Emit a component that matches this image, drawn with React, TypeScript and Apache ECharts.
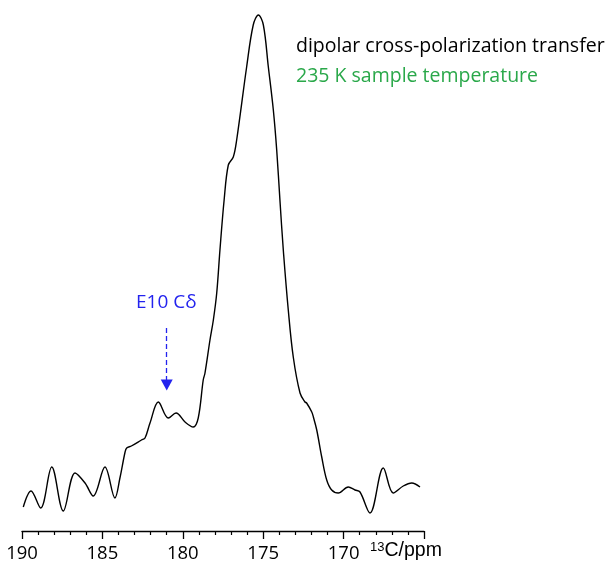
import React, { useEffect, useRef } from 'react';
import * as echarts from 'echarts';

// 13C chemical shift (ppm) and intensity (arbitrary units)
const shiftPpm = [
  189.92, 189.44, 188.84, 188.15, 187.43, 186.7, 186.08, 185.57, 184.84, 184.22,
  183.91, 183.59, 183.49, 183.2, 182.57, 182.35, 182.04, 181.52, 180.9, 180.42,
  179.86, 179.35, 179.04, 178.73, 178.62, 178.31, 178.1, 177.89, 177.69, 177.43,
  177.17, 176.86, 176.65, 176.03, 175.62, 175.3, 174.99, 174.68, 174.37, 174.16,
  173.96, 173.75, 173.44, 173.13, 172.71, 172.4, 172.3, 171.98, 171.88, 171.67,
  171.36, 171.05, 170.74, 170.33, 169.71, 169.29, 168.98, 168.36, 167.53, 166.91,
  166.29, 165.76, 165.25,
];
const intensity = [
  24, 40, 23, 64, 20, 58, 48, 35, 64, 33,
  53, 79, 83, 85, 91, 93, 108, 129, 113, 118,
  109, 104, 113, 151, 158, 191, 211, 238, 281, 331,
  366, 374, 391, 464, 506, 516, 506, 464, 421, 381,
  331, 281, 221, 174, 138, 129, 128, 119, 114, 101,
  74, 51, 41, 38, 44, 41, 39, 18, 63, 38,
  45, 48, 44,
];

const axisMin = 165;
const axisMax = 190;
const axisStep = 5;

const titleLine1 = 'dipolar cross-polarization transfer';
const titleLine2 = '235 K sample temperature';
const peakLabel = 'E10 C\u03b4';
const peakPpm = 181.0;
const arrowFrom = 203;
const arrowTo = 146;

const FONT = "'Open Sans', 'Noto Sans', sans-serif";

export default function App() {
  const ref = useRef<HTMLDivElement>(null);
  useEffect(() => {
    const chart = echarts.init(ref.current!, null, { renderer: 'svg' });
    const data = shiftPpm.map((x, i) => [x, intensity[i]]);
    chart.setOption({
      animation: false,
      grid: { left: 22, right: 185, top: 0, bottom: 33 },
      xAxis: {
        type: 'value',
        min: axisMin,
        max: axisMax,
        interval: axisStep,
        inverse: true,
        axisLine: { show: true, lineStyle: { color: '#000', width: 1.3 } },
        axisTick: { show: true, length: 8, lineStyle: { color: '#000', width: 1.3 } },
        minorTick: { show: true, splitNumber: 5, length: 4, lineStyle: { color: '#000', width: 1.2 } },
        splitLine: { show: false },
        axisLabel: {
          color: '#000',
          fontSize: 18.5,
          lineHeight: 18,
          fontFamily: FONT,
          margin: 11,
          formatter: (v: number) => (v === axisMin ? '' : String(v)),
        },
      },
      yAxis: {
        type: 'value',
        min: 0,
        max: 531,
        show: false,
      },
      series: [
        {
          type: 'line',
          data,
          smooth: 0.35,
          showSymbol: false,
          lineStyle: { color: '#000', width: 1.4 },
          markLine: {
            silent: true,
            symbol: ['none', 'triangle'],
            symbolSize: [12, 11],
            label: { show: false },
            lineStyle: { color: '#2323ee', width: 1.3, type: [5, 3] },
            itemStyle: { color: '#2323ee' },
            data: [[{ coord: [peakPpm, arrowFrom] }, { coord: [peakPpm, arrowTo] }]],
          },
        },
      ],
      graphic: [
        {
          type: 'text',
          left: 296,
          top: 34,
          style: { text: titleLine1, fill: '#000', fontSize: 19.5, fontFamily: FONT },
        },
        {
          type: 'text',
          left: 296,
          top: 64,
          style: { text: titleLine2, fill: '#2aa84a', fontSize: 19.5, fontFamily: FONT },
        },
        {
          type: 'text',
          left: 136,
          top: 291,
          style: { text: peakLabel, fill: '#2323ee', fontSize: 19, fontFamily: FONT },
        },
        {
          type: 'text',
          left: 370,
          top: 539,
          style: {
            text: '{s|13}{n|C/ppm}',
            fontFamily: FONT,
            rich: {
              s: { fontSize: 13, fill: '#000', verticalAlign: 'top', padding: [0, 0, 6, 0] },
              n: { fontSize: 19.5, fill: '#000', lineHeight: 18 },
            },
          },
        },
      ],
    });
    return () => chart.dispose();
  }, []);
  return (
    <div
      ref={ref}
      style={{ position: 'fixed', left: 0, top: 0, width: 609, height: 564 }}
    />
  );
}
